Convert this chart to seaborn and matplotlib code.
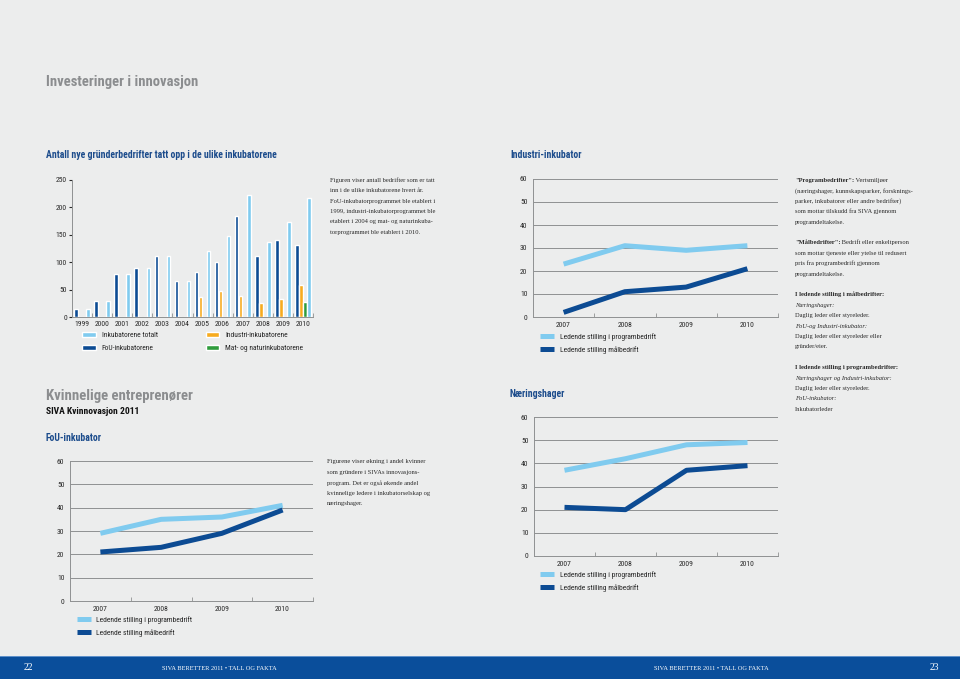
import matplotlib
matplotlib.use("Agg")
import matplotlib.pyplot as plt
import seaborn as sns
import pandas as pd
from matplotlib.patches import Rectangle
from matplotlib.ticker import FixedLocator

# ---------------- data ----------------
years = ["1999", "2000", "2001", "2002", "2003", "2004",
         "2005", "2006", "2007", "2008", "2009", "2010"]
fou = [15, 30, 79, 90, 112, 65, 83, 100, 184, 111, 140, 132]
industri = [0, 0, 0, 0, 0, 0, 37, 48, 38, 26, 33, 58]
mat = [0, 0, 0, 0, 0, 0, 0, 0, 0, 0, 0, 28]
totalt = [15, 30, 79, 90, 112, 65, 120, 148, 222, 137, 173, 218]

bar_names = ["FoU-inkubatorene", "Industri-inkubatorene",
             "Mat- og naturinkubatorene", "Inkubatorene totalt"]

line_years = ["2007", "2008", "2009", "2010"]
ind_prog = [23, 31, 29, 31]
ind_maal = [2, 11, 13, 21]
fou_prog = [29, 35, 36, 41]
fou_maal = [21, 23, 29, 39]
naer_prog = [37, 42, 48, 49]
naer_maal = [21, 20, 37, 39]

line_names = ["Ledende stilling i programbedrift", "Ledende stilling målbedrift"]

# ---------------- style ----------------
BG = "#ECEDED"
LIGHT = "#80CBEF"
DARK = "#0C4B93"
ORANGE = "#F7AB1E"
GREEN = "#2F9C3C"
HEAD_BLUE = "#1C4C8C"
HEAD_GREY = "#8B8D8F"
GRID = "#8F9192"
TXT = "#2A2A2A"
TICK_FS = 5.5
LEG_FS = 5.4

sns.set_style("white")
SANS = ["Roboto Condensed", "DejaVu Sans"]
SERIF = ["Liberation Serif", "DejaVu Serif"]
plt.rcParams["font.family"] = SANS
plt.rcParams["font.stretch"] = "condensed"
plt.rcParams["axes.facecolor"] = BG

W, H = 960, 679
fig = plt.figure(figsize=(W / 100, H / 100), dpi=100, facecolor=BG)


def box(l, t, r, b):
    return fig.add_axes([l / W, 1 - b / H, (r - l) / W, (b - t) / H])


def put(x, y, s, **kw):
    kw.setdefault("va", "center")
    return fig.text(x / W, 1 - y / H, s, **kw)


# ---------------- headings ----------------
put(46, 82, "Investeringer i innovasjon", fontsize=10.5, fontweight="bold", color=HEAD_GREY)
put(46, 155, "Antall nye gründerbedrifter tatt opp i de ulike inkubatorene",
    fontsize=7, fontweight="bold", color=HEAD_BLUE)
put(510, 155, "Industri-inkubator", fontsize=7, fontweight="bold", color=HEAD_BLUE)
put(46, 396, "Kvinnelige entreprenører", fontsize=10.6, fontweight="bold", color=HEAD_GREY)
put(46, 412, "SIVA Kvinnovasjon 2011", fontsize=6.8, fontweight="bold", color="#111111")
put(46, 438, "FoU-inkubator", fontsize=7, fontweight="bold", color=HEAD_BLUE)
put(510, 394, "Næringshager", fontsize=7, fontweight="bold", color=HEAD_BLUE)

# ---------------- bar chart ----------------
bar_df = pd.DataFrame({
    "År": years * 4,
    "Antall": fou + industri + mat + totalt,
    "Program": [n for n in bar_names for _ in years],
})
ax = box(72, 180, 313, 317)
sns.barplot(data=bar_df, x="År", y="Antall", hue="Program", hue_order=bar_names,
            palette=[DARK, ORANGE, GREEN, LIGHT], saturation=1,
            width=0.8, gap=0.12, ax=ax)
ax.set_xlim(-0.5, 11.5)
ax.set_ylim(0, 250)
ax.set_yticks([0, 50, 100, 150, 200, 250])
ax.set_xlabel("")
ax.set_ylabel("")
ax.xaxis.set_minor_locator(FixedLocator([i + 0.5 for i in range(12)]))
ax.tick_params(axis="x", which="major", length=0, pad=3, labelsize=TICK_FS, colors=TXT)
ax.tick_params(axis="x", which="minor", length=3, direction="in", color=GRID, bottom=True)
ax.tick_params(axis="y", length=2, pad=1.5, labelsize=TICK_FS, colors=TXT, left=True)
for s in ["top", "right"]:
    ax.spines[s].set_visible(False)
for s in ["left", "bottom"]:
    ax.spines[s].set_color(GRID)
    ax.spines[s].set_linewidth(0.7)
h, l = ax.get_legend_handles_labels()
order = [3, 0, 1, 2]
ax.legend([h[i] for i in order], [l[i] for i in order], loc="upper left",
          bbox_to_anchor=(82 / W, 1 - 332 / H), bbox_transform=fig.transFigure,
          ncol=2, frameon=False, fontsize=LEG_FS, handlelength=1.8, handleheight=0.7,
          handletextpad=0.8, columnspacing=6.4, labelspacing=0.75,
          borderpad=0, borderaxespad=0)


# ---------------- line charts ----------------
def line_chart(l, t, r, b, prog, maal, leg_x, leg_y):
    a = box(l, t, r, b)
    sns.lineplot(x=line_years, y=prog, ax=a, color=LIGHT, linewidth=3.6,
                 solid_capstyle="butt", label=line_names[0])
    sns.lineplot(x=line_years, y=maal, ax=a, color=DARK, linewidth=3.6,
                 solid_capstyle="butt", label=line_names[1])
    a.set_xlim(-0.5, 3.5)
    a.set_ylim(0, 60)
    a.set_yticks(range(0, 61, 10))
    a.yaxis.grid(True, color=GRID, linewidth=0.7)
    a.set_axisbelow(True)
    a.xaxis.set_minor_locator(FixedLocator([0.5, 1.5, 2.5, 3.5]))
    a.tick_params(axis="x", which="major", length=0, pad=3.5, labelsize=TICK_FS, colors=TXT)
    a.tick_params(axis="x", which="minor", length=3, direction="in", color=GRID, bottom=True)
    a.tick_params(axis="y", length=0, pad=4, labelsize=TICK_FS, colors=TXT)
    for s in ["top", "right"]:
        a.spines[s].set_visible(False)
    for s in ["left", "bottom"]:
        a.spines[s].set_color(GRID)
        a.spines[s].set_linewidth(0.7)
    a.legend(loc="upper left", bbox_to_anchor=(leg_x / W, 1 - leg_y / H),
             bbox_transform=fig.transFigure, frameon=False, fontsize=LEG_FS,
             handlelength=1.8, handletextpad=0.8, labelspacing=0.7,
             borderpad=0, borderaxespad=0)
    return a


line_chart(533, 179, 778, 317, ind_prog, ind_maal, 540, 333)
line_chart(70, 461, 313, 601, fou_prog, fou_maal, 77, 616)
line_chart(534, 417, 778, 556, naer_prog, naer_maal, 540, 571)

# ---------------- body text ----------------
serif_kw = dict(family=SERIF, fontsize=4.7, color=TXT)

left_lines = [
    "Figuren viser antall bedrifter som er tatt",
    "inn i de ulike inkubatorene hvert år.",
    "FoU-inkubatorprogrammet ble etablert i",
    "1999, industri-inkubatorprogrammet ble",
    "etablert i 2004 og mat- og naturinkuba-",
    "torprogrammet ble etablert i 2010.",
]
for i, s in enumerate(left_lines):
    put(330, 180 + i * 10.5, s, **serif_kw)

fou_lines = [
    "Figurene viser økning i andel kvinner",
    "som gründere i SIVAs innovasjons-",
    "program. Det er også økende andel",
    "kvinnelige ledere i inkubatorselskap og",
    "næringshager.",
]
for i, s in enumerate(fou_lines):
    put(327, 462 + i * 10.4, s, **serif_kw)

# right column: (bold lead, rest, style)
right_lines = [
    ("\"Programbedrifter\":", " Vertsmiljøer", None),
    ("", "(næringshager, kunnskapsparker, forsknings-", None),
    ("", "parker, inkubatorer eller andre bedrifter)", None),
    ("", "som mottar tilskudd fra SIVA gjennom", None),
    ("", "programdeltakelse.", None),
    None,
    ("\"Målbedrifter\":", " Bedrift eller enkeltperson", None),
    ("", "som mottar tjeneste eller ytelse til redusert", None),
    ("", "pris fra programbedrift gjennom", None),
    ("", "programdeltakelse.", None),
    None,
    ("I ledende stilling i målbedrifter:", "", None),
    ("", "Næringshager:", "italic"),
    ("", "Daglig leder eller styreleder.", None),
    ("", "FoU-og Industri-inkubator:", "italic"),
    ("", "Daglig leder eller styreleder eller", None),
    ("", "gründer/eier.", None),
    None,
    ("I ledende stilling i programbedrifter:", "", None),
    ("", "Næringshager og Industri-inkubator:", "italic"),
    ("", "Daglig leder eller styreleder.", None),
    ("", "FoU-inkubator:", "italic"),
    ("", "Inkubatorleder", None),
]
for i, item in enumerate(right_lines):
    if item is None:
        continue
    bold, rest, style = item
    y = 182 + i * 10.4
    if bold:
        t = put(795, y, bold, fontweight="bold", va="baseline", **serif_kw)
        if rest:
            ax.annotate(rest, xy=(1, 0), xycoords=t, va="bottom", ha="left",
                        annotation_clip=False, **serif_kw)
    else:
        put(795, y, rest, style=style or "normal", va="baseline", **serif_kw)

# ---------------- footer ----------------
fig.patches.append(Rectangle((0, 0), 1, 22 / H, transform=fig.transFigure,
                             facecolor="#0A4E9B", edgecolor="none", zorder=0))
fig.patches.append(Rectangle((0, 22 / H), 1, 1.5 / H, transform=fig.transFigure,
                             facecolor="#5E90C9", edgecolor="none", zorder=0))
foot_kw = dict(family=SERIF, color="white")
put(24, 668, "22", fontsize=7, **foot_kw)
put(162, 668, "SIVA BERETTER 2011 • TALL OG FAKTA", fontsize=4.6, **foot_kw)
put(654, 668, "SIVA BERETTER 2011 • TALL OG FAKTA", fontsize=4.6, **foot_kw)
put(930, 668, "23", fontsize=7, **foot_kw)

fig.savefig("out.png", dpi=100, facecolor=BG)
